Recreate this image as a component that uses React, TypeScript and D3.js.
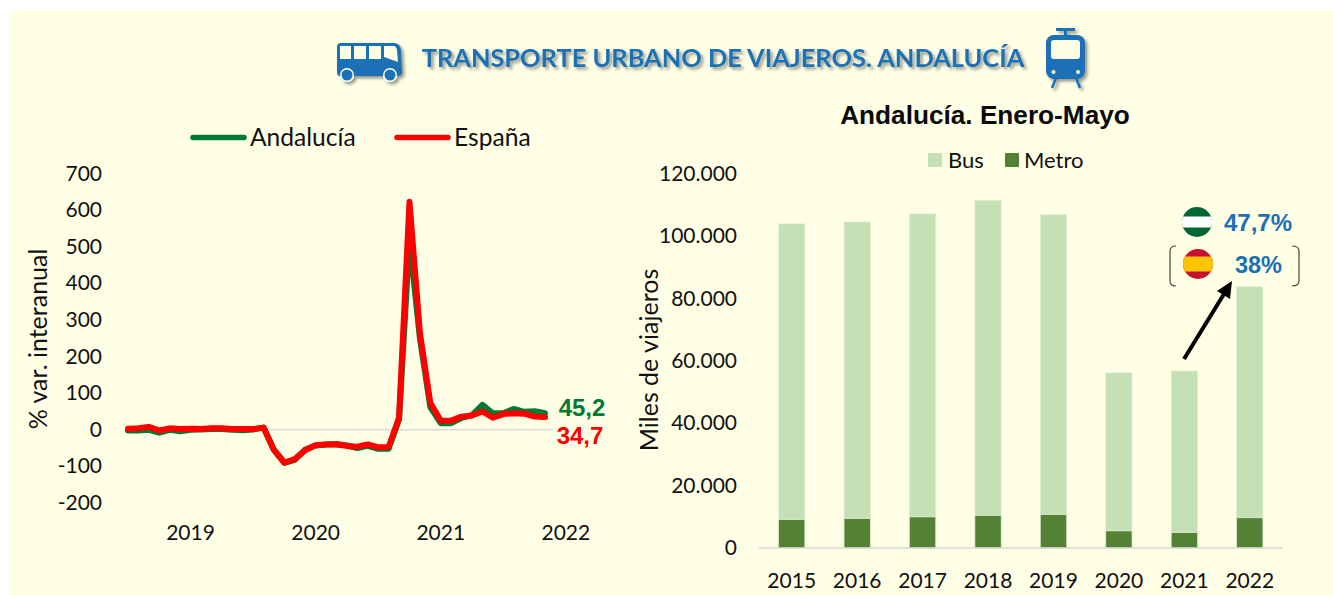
import React from "react";
import * as d3 from "d3";

const andalucia = [-2,-2,0,-8,0,-4,0,1,2,2,0,-1,1,6,-55,-90,-82,-54,-43,-40,-39,-43,-50,-44,-52,-52,28,520,250,62,18,18,33,40,68,45,45,57,49,51,45.2];
const espana = [3,4,8,-2,4,2,3,2,4,4,2,2,2,6,-55,-90,-80,-56,-42,-40,-40,-44,-46,-40,-48,-47,33,623,265,73,25,25,36,39,50,33,43,45,44,36,34.7];
const lineTicks = [700,600,500,400,300,200,100,0,-100,-200];
const yearLabels = ["2019","2020","2021","2022"];
const yearIndex = [6,18,30,42];

const years = ["2015","2016","2017","2018","2019","2020","2021","2022"];
const metro = [9200,9500,10000,10500,10800,5500,5000,9700];
const bus = [94800,95100,97200,101000,96100,50700,51800,74100];
const barTicks = [0,20000,40000,60000,80000,100000,120000];

const BLUE = "#1A6FB5";
const GREEN = "#007A33";
const RED = "#FF0000";
const LIGHT = "#C5E0B4";
const DARK = "#548235";
const CREAM = "#FFFFE6";
const SANS = "Lato, Carlito, sans-serif";
const ARIAL = "'Liberation Sans', Arial, sans-serif";

const fmt = (v: number) => d3.format(",")(v).replace(/,/g, ".");

export default function App() {
  const xL = d3.scaleLinear().domain([0, 40]).range([128, 545]);
  const yL = d3.scaleLinear().domain([-200, 700]).range([503, 173.6]);
  const line = d3.line<number>().x((_, i) => xL(i)).y((d) => yL(d)).curve(d3.curveLinear);

  const xB = d3.scaleBand<string>().domain(years).range([759, 1282.5]).paddingInner(0.6).paddingOuter(0.3);
  const yB = d3.scaleLinear().domain([0, 120000]).range([548, 174]);
  const stacked = d3.stack<number>().keys(["metro", "bus"]).value((i, k) => (k === "metro" ? metro[i] : bus[i]))(years.map((_, i) => i));

  return (
    <svg width={1333} height={595} style={{ position: "absolute", left: 0, top: 0, background: "#fff" }}>
      <defs>
        <filter id="sh" x="-20%" y="-20%" width="150%" height="150%">
          <feDropShadow dx="2.5" dy="2.5" stdDeviation="1.8" floodColor="#000" floodOpacity="0.4" />
        </filter>
        <clipPath id="c1"><circle cx={1197} cy={222} r={15} /></clipPath>
        <clipPath id="c2"><circle cx={1198} cy={264} r={15} /></clipPath>
      </defs>
      <rect x={9} y={10} width={1324} height={585} fill={CREAM} />

      {/* header */}
      <text x={723} y={67} textAnchor="middle" fontFamily={SANS} fontWeight={700} fontSize={25.4} fill={BLUE} filter="url(#sh)">
        TRANSPORTE URBANO DE VIAJEROS. ANDALUCÍA
      </text>
      <g filter="url(#sh)" fill={BLUE}>
        <path d="M341 43 H394 Q400 43 401 50 L402 72 Q402 76 398 76 H340 Q337 76 337 72 V47 Q337 43 341 43 Z" />
        <circle cx={347} cy={75} r={7} fill={CREAM} />
        <circle cx={390} cy={75} r={7} fill={CREAM} />
        <circle cx={347} cy={75} r={5.5} />
        <circle cx={390} cy={75} r={5.5} />
      </g>
      <g fill={CREAM}>
        <rect x={340} y={46} width={11} height={13} />
        <rect x={354} y={46} width={12} height={13} />
        <rect x={369} y={46} width={12} height={13} />
        <path d="M384 46 H394 Q396 46 397 50 L398 62 L384 57 Z" />
      </g>
      <g filter="url(#sh)">
        <rect x={1056} y={28} width={19} height={3} fill={BLUE} />
        <rect x={1064} y={30} width={3} height={6} fill={BLUE} />
        <rect x={1046} y={35} width={39} height={44} rx={8} fill={BLUE} />
        <path d="M1056 78 L1052 88 M1076 78 L1080 88" stroke={BLUE} strokeWidth={2.5} fill="none" />
      </g>
      <rect x={1051} y={40} width={29} height={19} rx={3} fill={CREAM} />
      <circle cx={1053.5} cy={72} r={2} fill={CREAM} />
      <circle cx={1078} cy={72} r={2} fill={CREAM} />

      {/* line chart */}
      <line x1={193} x2={244} y1={137.5} y2={137.5} stroke={GREEN} strokeWidth={5.5} strokeLinecap="round" />
      <text x={250} y={146} fontFamily={SANS} fontSize={24.6} fill="#111">Andalucía</text>
      <line x1={397} x2={448} y1={137.5} y2={137.5} stroke={RED} strokeWidth={5.5} strokeLinecap="round" />
      <text x={454} y={146} fontFamily={SANS} fontSize={24.6} fill="#111">España</text>

      {lineTicks.map((t) => (
        <text key={t} x={102} y={yL(t) + 7} textAnchor="end" fontFamily={SANS} fontSize={21} fill="#111">{t}</text>
      ))}
      <text transform="translate(47,339) rotate(-90)" textAnchor="middle" fontFamily={SANS} fontSize={25} fill="#111">% var. interanual</text>
      <line x1={128} x2={553} y1={yL(0)} y2={yL(0)} stroke="#D9D9D9" strokeWidth={1.5} />
      <path d={line(andalucia) ?? ""} fill="none" stroke={GREEN} strokeWidth={6} strokeLinejoin="round" strokeLinecap="round" />
      <path d={line(espana) ?? ""} fill="none" stroke={RED} strokeWidth={6} strokeLinejoin="round" strokeLinecap="round" />
      {yearLabels.map((l, i) => (
        <text key={l} x={xL(yearIndex[i])} y={540} textAnchor="middle" fontFamily={SANS} fontSize={21} fill="#111">{l}</text>
      ))}
      <text x={582} y={415.5} textAnchor="middle" fontFamily={ARIAL} fontWeight={700} fontSize={24} fill={GREEN}>45,2</text>
      <text x={580} y={443.5} textAnchor="middle" fontFamily={ARIAL} fontWeight={700} fontSize={24} fill={RED}>34,7</text>

      {/* bar chart */}
      <text x={985} y={124} textAnchor="middle" fontFamily={ARIAL} fontWeight={700} fontSize={26.2} fill="#0a0a0a">Andalucía. Enero-Mayo</text>
      <rect x={928} y={153} width={14} height={14} fill={LIGHT} />
      <text x={948} y={167.5} fontFamily={SANS} fontSize={22} fill="#111">Bus</text>
      <rect x={1005} y={153} width={14} height={14} fill={DARK} />
      <text x={1024} y={167.5} fontFamily={SANS} fontSize={22} fill="#111">Metro</text>

      {barTicks.map((t) => (
        <text key={t} x={737} y={yB(t) + 7} textAnchor="end" fontFamily={SANS} fontSize={21} fill="#111">{fmt(t)}</text>
      ))}
      <text transform="translate(658,360) rotate(-90)" textAnchor="middle" fontFamily={SANS} fontSize={25} fill="#111">Miles de viajeros</text>
      {stacked.map((s) => (
        <g key={s.key} fill={s.key === "metro" ? DARK : LIGHT}>
          {s.map((d, i) => (
            <rect key={i} x={xB(years[i])} y={yB(d[1])} width={xB.bandwidth()} height={yB(d[0]) - yB(d[1])} stroke="#DCEBCF" strokeWidth={0.6} />
          ))}
        </g>
      ))}
      <line x1={759} x2={1282.5} y1={yB(0)} y2={yB(0)} stroke="#D9D9D9" strokeWidth={1.5} />
      {years.map((y) => (
        <text key={y} x={(xB(y) ?? 0) + xB.bandwidth() / 2} y={588} textAnchor="middle" fontFamily={SANS} fontSize={21} fill="#111">{y}</text>
      ))}

      {/* annotation */}
      <g clipPath="url(#c1)">
        <rect x={1182} y={207} width={30} height={30} fill="#006633" />
        <rect x={1182} y={216.5} width={30} height={11} fill="#fff" />
      </g>
      <text x={1258} y={231} textAnchor="middle" fontFamily={ARIAL} fontWeight={700} fontSize={24} fill={BLUE}>47,7%</text>
      <g clipPath="url(#c2)">
        <rect x={1183} y={249} width={30} height={30} fill="#C8102E" />
        <rect x={1183} y={256.5} width={30} height={15} fill="#FFC400" />
      </g>
      <text x={1258.5} y={273} textAnchor="middle" fontFamily={ARIAL} fontWeight={700} fontSize={23.5} fill={BLUE}>38%</text>
      <path d="M1176 246 Q1170 246 1170 251 V281 Q1170 286 1176 286 M1292 246 Q1299 246 1299 251 V281 Q1299 286 1292 286" fill="none" stroke="#444" strokeWidth={1.2} />
      <line x1={1184} y1={359} x2={1224} y2={294} stroke="#000" strokeWidth={4} />
      <path d="M1232 281 L1230 299 L1217 291 Z" fill="#000" />
    </svg>
  );
}
